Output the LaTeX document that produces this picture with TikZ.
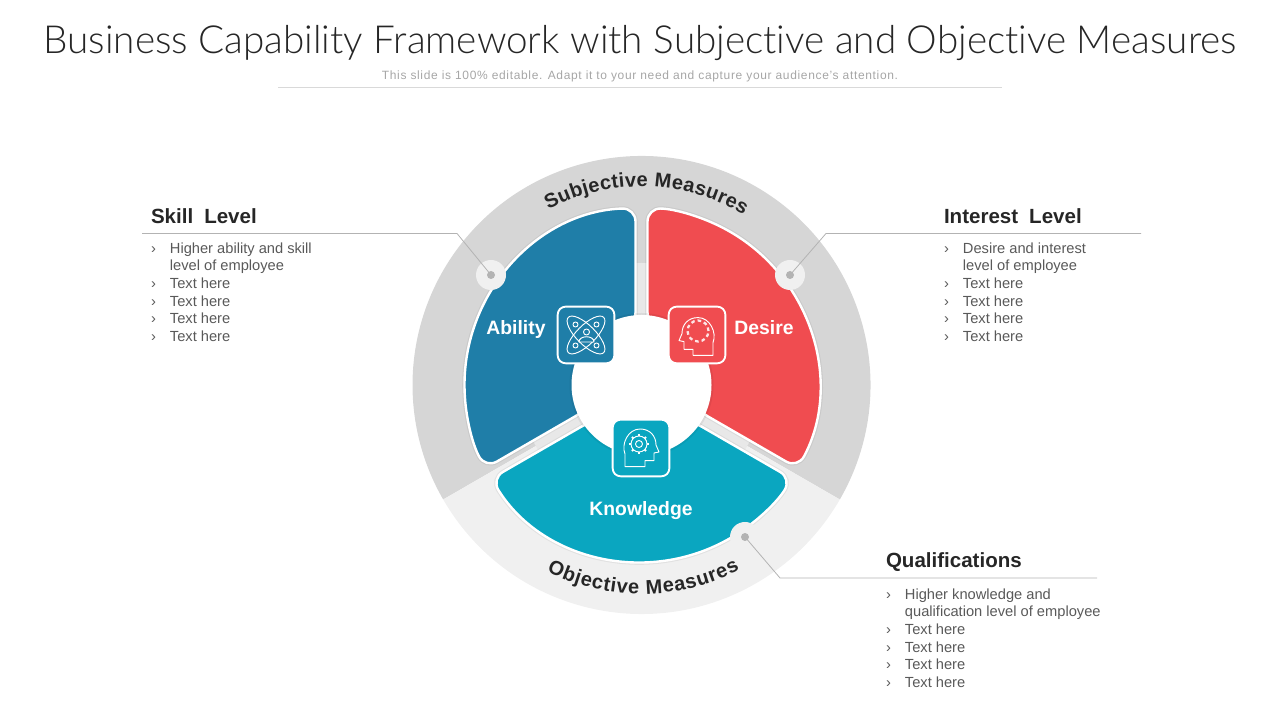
\documentclass[tikz,border=0pt]{standalone}
\usepackage{fontspec}
\setmainfont{Liberation Sans}
\newfontfamily\titlefont[Ligatures={NoCommon}]{Lato Light}
\usetikzlibrary{decorations.text}
\definecolor{ringdark}{HTML}{D6D6D6}
\definecolor{ringlight}{HTML}{F0F0F0}
\definecolor{gapgrey}{HTML}{E8E8E8}
\definecolor{abilityblue}{HTML}{1F7EA8}
\definecolor{desirered}{HTML}{F04C50}
\definecolor{knowteal}{HTML}{0AA6C0}
\definecolor{headtext}{HTML}{262626}
\definecolor{bodytext}{HTML}{595959}
\definecolor{leader}{HTML}{B3B3B3}
\newcommand{\textlist}[2]{%
\begin{tabular}{@{}l@{}l@{}}
\makebox[14.2pt][l]{›} & #1\\
 & #2\\
› & Text here\\
› & Text here\\
› & Text here\\
› & Text here
\end{tabular}}
\newcommand{\segpath}{(-6,60) -- (-6,176.9) arc[start angle=91.94,end angle=208.06,radius=177] -- (204.26:60) -- cycle}
\tikzset{
  every node/.style={inner sep=0pt,outer sep=0pt},
  seglabel/.style={font=\fontsize{14.5}{17}\selectfont\bfseries,text=white},
  heading/.style={font=\fontsize{15.4}{18}\selectfont\bfseries,text=headtext,anchor=west},
  listtext/.style={font=\fontsize{11}{13.2}\selectfont,text=bodytext,anchor=north west},
  iconbox/.style={draw=white,line width=1.4pt,rounded corners=6pt,minimum size=42.5pt},
  iconline/.style={draw=white,line width=0.7pt,line join=round},
  leaderline/.style={draw=leader,line width=0.6pt},
  portdisc/.style={circle,fill=ringlight,minimum size=22.5pt},
  portdot/.style={circle,fill=leader,minimum size=6pt},
  head/.pic={\draw[iconline] (-16,-18.7) -- (-16,-6) .. controls (-20,4) and (-13,19) .. (-1,19)
    .. controls (9,19) and (15,12) .. (15,3) -- (18,-4) -- (13,-5) -- (13,-12.7) -- (4,-12.7) -- (4,-18.7) -- cycle;}
}
\begin{document}
\begin{tikzpicture}[x=0.75pt,y=0.75pt]
\useasboundingbox (0,0) rectangle (1280,720);
% title
\node[font=\fontsize{29}{33}\selectfont\titlefont,text=headtext] (title) at (640,677) {Business Capability Framework with Subjective and Objective Measures};
\node[font=\fontsize{9}{11}\selectfont\addfontfeature{LetterSpace=5.5},text=black!35] (subtitle) at (640,644) {This slide is 100\% editable. Adapt it to your need and capture your audience's attention.};
\draw[draw=black!15,line width=0.6pt] (278,633) -- (1002,633);
\begin{scope}[shift={(641.5,335)}]
% outer ring
\fill[ringdark] (0,0) -- (-30:229) arc[start angle=-30,end angle=210,radius=229] -- cycle;
\fill[ringlight] (0,0) -- (210:229) arc[start angle=210,end angle=330,radius=229] -- cycle;
\fill[gapgrey] (0,0) circle (122);
% three segments, same shape turned
\foreach \ang/\col in {0/abilityblue,-120/desirered,120/knowteal}{
  \draw[rotate=\ang,black,opacity=0.06,line width=3.4pt,rounded corners=10pt] \segpath;
  \draw[rotate=\ang,fill=\col,draw=white,line width=1.8pt,rounded corners=10pt] \segpath;
}
\fill[black,opacity=0.06] (0,0) circle (72);
\fill[white] (0,0) circle (70);
% curved labels
\path[decorate,decoration={text along path,text align=fit to path,text={|\fontsize{15}{18}\selectfont\bfseries\color{headtext}|Subjective Measures}}]
  (118:198.5) arc[start angle=118,end angle=59,radius=198.5];
\path[decorate,decoration={text along path,text align=fit to path,text={|\fontsize{15}{18}\selectfont\bfseries\color{headtext}|Objective Measures}}]
  (-117:209) arc[start angle=-117,end angle=-62,radius=209];
\end{scope}
% segment texts
\node[seglabel] (ability) at (516,390) {Ability};
\node[seglabel] (desire) at (764,392) {Desire};
\node[seglabel] (knowledge) at (641,209) {Knowledge};
% icon boxes
\node[iconbox,fill=abilityblue] (abilitybox) at (586,385) {};
\node[iconbox,fill=desirered] (desirebox) at (697,385) {};
\node[iconbox,fill=knowteal] (knowbox) at (641,272) {};
% atom icon
\begin{scope}[shift={(abilitybox.center)}]
\draw[iconline,rotate=45] (0,0) ellipse (25 and 9.5);
\draw[iconline,rotate=-45] (0,0) ellipse (25 and 9.5);
\foreach \p in {(-10.5,10.5),(10.5,10.5),(-10.5,-10.5),(10.5,-10.5)}{\draw[iconline] \p circle (2.5);}
\draw[iconline] (0.5,3) circle (3);
\draw[iconline,fill=abilityblue] (-7,-7) .. controls (-7,0) and (8,0) .. (8,-7) -- cycle;
\end{scope}
% head with ring of dashes
\begin{scope}[shift={(desirebox.center)}]
\pic[xscale=-1,yshift=-1.2pt] {head};
\draw[iconline,white!85!desirered,line width=1.7pt,dash pattern=on 2.7pt off 2.25pt] (1,4) circle (10.5);
\end{scope}
% head with gear
\begin{scope}[shift={(knowbox.center)}]
\pic {head};
\draw[iconline] (-2,4) circle (8);
\draw[iconline] (-2,4) circle (3.5);
\foreach \a in {0,45,...,315}{\draw[iconline,line width=1.4pt] (-2,4) ++(\a:8) -- ++(\a:2);}
\end{scope}
% ports and leaders
\node[portdisc] (skillport) at (491,445) {};
\node[portdisc] (interestport) at (790,445) {};
\node[portdisc] (qualport) at (745,183) {};
\node[portdot] (skilldot) at (skillport.center) {};
\node[portdot] (interestdot) at (interestport.center) {};
\node[portdot] (qualdot) at (qualport.center) {};
\coordinate (skillend) at (142,486.5);
\coordinate (interestend) at (1141,486.5);
\coordinate (qualend) at (1097,142);
\draw[leaderline] (skillend) -- (457,486.5) -- (skilldot.center);
\draw[leaderline] (interestend) -- (826,486.5) -- (interestdot.center);
\draw[leaderline] (qualend) -- (780,142) -- (qualdot.center);
% side texts
\node[heading] (skill) at (151,504) {Skill\hspace{4pt} Level};
\node[heading] (interest) at (944,504) {Interest\hspace{4pt} Level};
\node[heading] (qual) at (886,158) {Qualifications};
\node[listtext] (skilllist) at (151,479) {\textlist{Higher ability and skill}{level of employee}};
\node[listtext] (interestlist) at (944,479) {\textlist{Desire and interest}{level of employee}};
\node[listtext] (quallist) at (886,133) {\textlist{Higher knowledge and}{qualification level of employee}};
\end{tikzpicture}
\end{document}
